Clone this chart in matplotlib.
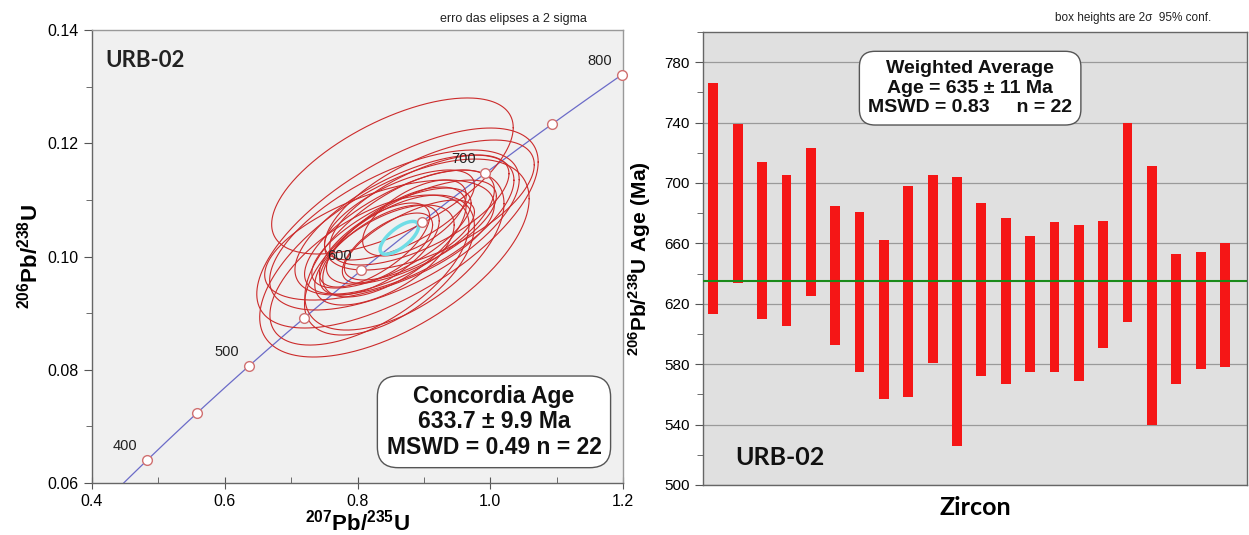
import numpy as np
import matplotlib
matplotlib.use("Agg")
import matplotlib.pyplot as plt
from matplotlib.ticker import MultipleLocator

plt.rcParams['font.family'] = ['Liberation Sans', 'DejaVu Sans']
plt.rcParams['mathtext.fontset'] = 'custom'
plt.rcParams['mathtext.rm'] = 'Liberation Sans'
plt.rcParams['mathtext.bf'] = 'Liberation Sans:bold'

# ---------------- data: concordia plot ----------------
# ellipse centres (207Pb/235U, 206Pb/238U), 2-sigma half widths and error correlation
ell_x = [0.8526, 0.8556, 0.8602, 0.8556, 0.8857, 0.8511, 0.8632, 0.8331, 0.8707, 0.8406, 0.8932,
         0.8481, 0.8782, 0.8256, 0.9083, 0.8556, 0.8180, 0.8632, 0.8451, 0.8812, 0.8331, 0.8707]
ell_y = [0.11422, 0.09973, 0.10503, 0.10256, 0.10680, 0.10326, 0.10432, 0.10114, 0.10556, 0.10026, 0.10821,
         0.09849, 0.10291, 0.10203, 0.10909, 0.10468, 0.09761, 0.10733, 0.10150, 0.10432, 0.10291, 0.10114]
ell_sx = [0.182, 0.203, 0.212, 0.108, 0.078, 0.120, 0.143, 0.090, 0.165, 0.105, 0.135,
          0.128, 0.098, 0.083, 0.158, 0.188, 0.150, 0.113, 0.068, 0.128, 0.173, 0.150]
ell_sy = [0.01378, 0.01748, 0.01766, 0.00971, 0.00671, 0.00883, 0.01095, 0.00795, 0.01236, 0.00883, 0.00971,
          0.01236, 0.00706, 0.00742, 0.01148, 0.01413, 0.01325, 0.00795, 0.00618, 0.00918, 0.01060, 0.01413]
ell_rho = [0.62, 0.60, 0.66, 0.66, 0.60, 0.70, 0.68, 0.65, 0.64, 0.60, 0.66,
           0.56, 0.70, 0.68, 0.62, 0.63, 0.60, 0.66, 0.66, 0.69, 0.58, 0.58]
conc_x, conc_y, conc_sx, conc_sy, conc_rho = 0.863, 0.1033, 0.029, 0.0029, 0.70
conc_ages = [400, 450, 500, 550, 600, 650, 700, 750, 800]
conc_labels = [400, 500, 600, 700, 800]

# ---------------- data: weighted average plot ----------------
bar_top = [766, 739, 714, 705, 723, 685, 681, 662, 698, 705, 704,
           687, 677, 665, 674, 672, 675, 740, 711, 653, 654, 660]
bar_bot = [613, 634, 610, 605, 625, 593, 575, 557, 558, 581, 526,
           572, 567, 575, 575, 569, 591, 608, 540, 567, 577, 578]
wavg = 635

L238 = 1.55125e-10
L235 = 9.8485e-10

def conc(t_ma):
    t = np.asarray(t_ma) * 1e6
    return np.exp(L235 * t) - 1, np.exp(L238 * t) - 1

fig = plt.figure(figsize=(12.49, 5.35), dpi=100)
fig.patch.set_facecolor('white')

# ---------------- left: concordia ----------------
ax1 = fig.add_axes([0.0737, 0.0972, 0.4251, 0.8467])
ax1.set_facecolor('#f0f0f0')
ax1.set_xlim(0.4, 1.2)
ax1.set_ylim(0.06, 0.14)

tt = np.linspace(300, 850, 400)
cx, cy = conc(tt)
ax1.plot(cx, cy, color='#6b6bc8', lw=0.9, zorder=2)

th = np.linspace(0, 2 * np.pi, 300)
for x0, y0, sx, sy, r in zip(ell_x, ell_y, ell_sx, ell_sy, ell_rho):
    ex = x0 + sx * np.cos(th)
    ey = y0 + sy * (r * np.cos(th) + np.sqrt(1 - r * r) * np.sin(th))
    ax1.plot(ex, ey, color='#cc2b2b', lw=0.8, zorder=3)

ex = conc_x + conc_sx * np.cos(th)
ey = conc_y + conc_sy * (conc_rho * np.cos(th) + np.sqrt(1 - conc_rho ** 2) * np.sin(th))
ax1.plot(ex, ey, color='#6fdde6', lw=2.5, zorder=4)

mx, my = conc(conc_ages)
ax1.plot(mx, my, 'o', ms=7, mfc='white', mec='#d07070', mew=1.0, zorder=5, clip_on=False)
for a in conc_labels:
    lx, ly = conc(a)
    ax1.annotate(str(a), (lx, ly), xytext=(-7, 5), textcoords='offset points',
                 ha='right', va='bottom', fontsize=10.5, color='#222222', zorder=6)

ax1.xaxis.set_major_locator(MultipleLocator(0.2))
ax1.xaxis.set_minor_locator(MultipleLocator(0.1))
ax1.yaxis.set_major_locator(MultipleLocator(0.02))
ax1.yaxis.set_minor_locator(MultipleLocator(0.01))
ax1.xaxis.set_major_formatter(matplotlib.ticker.FormatStrFormatter('%.1f'))
ax1.yaxis.set_major_formatter(matplotlib.ticker.FormatStrFormatter('%.2f'))
ax1.tick_params(axis='x', which='major', direction='inout', length=8, labelsize=11.5, color='#555555', pad=4)
ax1.tick_params(axis='x', which='minor', direction='in', length=4, color='#555555')
ax1.tick_params(axis='y', which='major', direction='out', length=6, labelsize=11.5, color='#555555')
ax1.tick_params(axis='y', which='minor', direction='out', length=4, color='#555555')
for s in ax1.spines.values():
    s.set_color('#666666')
    s.set_linewidth(1.0)
ax1.spines['top'].set_color('#999999')
ax1.spines['right'].set_color('#999999')

ax1.set_xlabel(r'$^{\mathbf{207}}\mathbf{Pb/}^{\mathbf{235}}\mathbf{U}$', fontsize=16, labelpad=0)
ax1.set_ylabel(r'$^{\mathbf{206}}\mathbf{Pb/}^{\mathbf{238}}\mathbf{U}$', fontsize=16, labelpad=4)

ax1.text(0.025, 0.955, 'URB-02', transform=ax1.transAxes, fontsize=16, fontweight='bold',
         family=['Lato', 'DejaVu Sans'], ha='left', va='top', color='#222222')
ax1.text(0.757, 0.135, 'Concordia Age\n633.7 ± 9.9 Ma\nMSWD = 0.49 n = 22', transform=ax1.transAxes,
         fontsize=16.5, fontweight='bold', ha='center', va='center', linespacing=1.12, color='#111111',
         bbox=dict(boxstyle='round,pad=0.4,rounding_size=0.9', fc='white', ec='#555555', lw=1.0),
         zorder=10)
fig.text(0.47, 0.965, 'erro das elipses a 2 sigma', fontsize=9, ha='right', va='center', color='#222222')

# ---------------- right: weighted average ----------------
ax2 = fig.add_axes([0.5629, 0.0935, 0.4355, 0.8467])
ax2.set_facecolor('#e0e0e0')
xs = np.arange(1, len(bar_top) + 1)
ax2.set_xlim(0.58, 22.9)
ax2.set_ylim(500, 800)
ax2.yaxis.set_minor_locator(MultipleLocator(20))
ax2.set_yticks([500, 540, 580, 620, 660, 700, 740, 780])
ax2.grid(axis='y', which='major', color='#9a9a9a', lw=0.9)
ax2.set_axisbelow(True)
ax2.bar(xs, np.array(bar_top) - np.array(bar_bot), bottom=bar_bot, width=0.4,
        color='#f51616', edgecolor='none', zorder=3)
ax2.axhline(wavg, color='#1a8a1a', lw=1.5, zorder=4)
ax2.set_xticks([])
ax2.tick_params(axis='y', which='major', direction='out', length=6, labelsize=11, color='#555555')
ax2.tick_params(axis='y', which='minor', direction='out', length=4, color='#555555')
for s in ax2.spines.values():
    s.set_color('#666666')
    s.set_linewidth(1.0)
ax2.set_xlabel('Zircon', fontsize=18, fontweight='bold', family=['Lato', 'DejaVu Sans'], labelpad=8)
ax2.set_ylabel(r'$^{\mathbf{206}}\mathbf{Pb/}^{\mathbf{238}}\mathbf{U\ Age\ (Ma)}$', fontsize=15, labelpad=8)
ax2.text(0.06, 0.035, 'URB-02', transform=ax2.transAxes, fontsize=18, fontweight='bold',
         family=['Lato', 'DejaVu Sans'], ha='left', va='bottom', color='#111111')
ax2.text(0.491, 0.876, 'Weighted Average\nAge = 635 ± 11 Ma\nMSWD = 0.83     n = 22', transform=ax2.transAxes,
         fontsize=14, fontweight='bold', ha='center', va='center', linespacing=1.2, color='#111111',
         bbox=dict(boxstyle='round,pad=0.45,rounding_size=0.8', fc='white', ec='#555555', lw=1.0),
         zorder=10)
fig.text(0.97, 0.967, 'box heights are 2σ  95% conf.', fontsize=8.5, ha='right', va='center', color='#222222')

fig.savefig('out.png', dpi=100)
